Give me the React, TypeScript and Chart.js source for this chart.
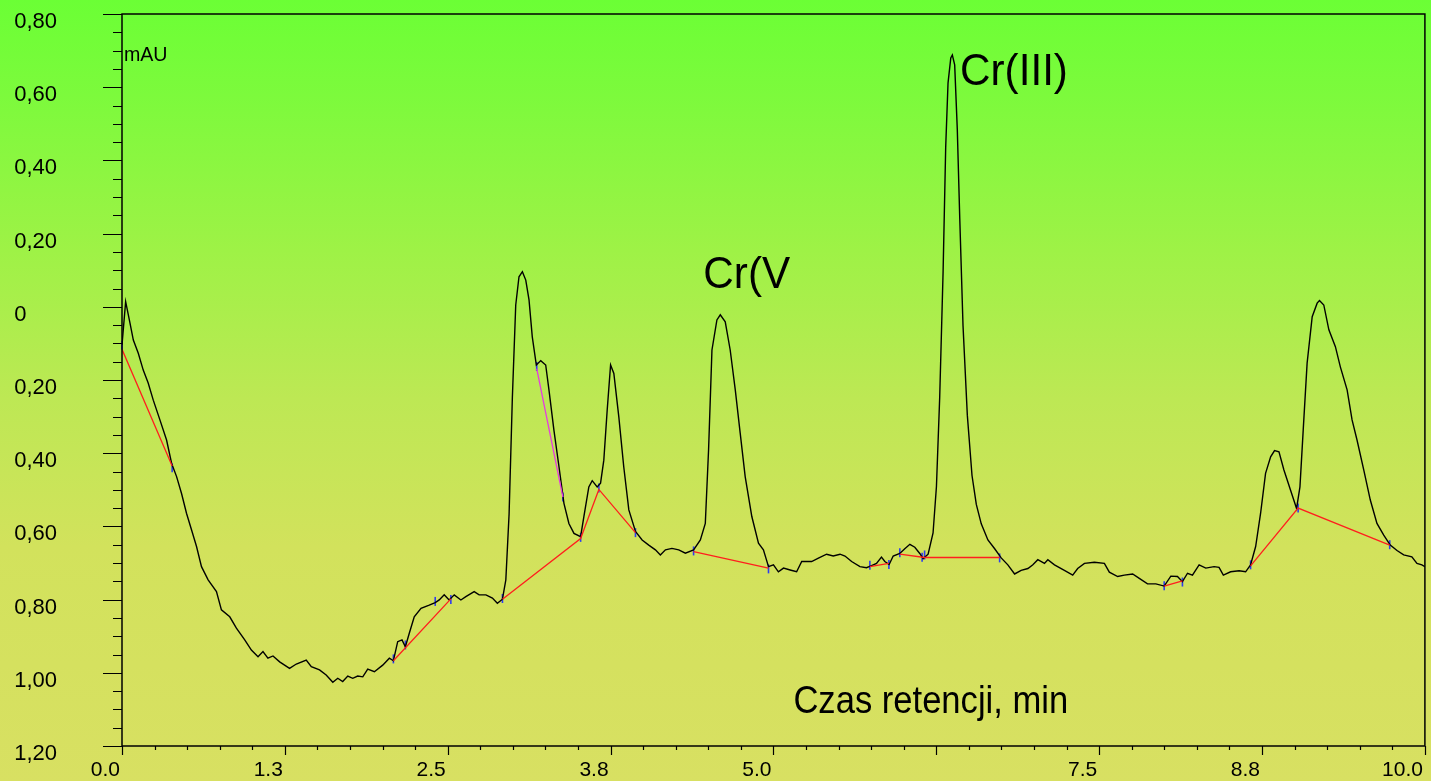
import React, { useEffect, useRef } from "react";
import { Chart, registerables } from "chart.js";

Chart.register(...registerables);

// Chromatogram samples: [retention time (min), signal (mAU)]
const chromatogram: [number, number][] = [
  [0.000, -0.104], [0.028, 0.014], [0.061, -0.044], [0.087, -0.091], [0.125, -0.127], [0.163, -0.173],
  [0.201, -0.208], [0.240, -0.255], [0.291, -0.309], [0.342, -0.364], [0.381, -0.428], [0.419, -0.464],
  [0.457, -0.510], [0.495, -0.564], [0.534, -0.610], [0.572, -0.655], [0.610, -0.710], [0.661, -0.746],
  [0.725, -0.778], [0.763, -0.828], [0.827, -0.847], [0.878, -0.878], [0.942, -0.910], [0.993, -0.938],
  [1.044, -0.956], [1.082, -0.942], [1.120, -0.960], [1.159, -0.954], [1.210, -0.970], [1.286, -0.988],
  [1.338, -0.976], [1.414, -0.965], [1.453, -0.983], [1.516, -0.992], [1.567, -1.006], [1.618, -1.026],
  [1.656, -1.015], [1.694, -1.024], [1.733, -1.009], [1.771, -1.015], [1.809, -1.009], [1.848, -1.011],
  [1.886, -0.990], [1.937, -0.997], [2.001, -0.979], [2.052, -0.960], [2.083, -0.967], [2.116, -0.915],
  [2.149, -0.910], [2.175, -0.929], [2.205, -0.892], [2.243, -0.847], [2.295, -0.824], [2.358, -0.815],
  [2.404, -0.808], [2.435, -0.801], [2.473, -0.787], [2.511, -0.801], [2.550, -0.787], [2.601, -0.801],
  [2.639, -0.792], [2.703, -0.778], [2.741, -0.787], [2.793, -0.787], [2.843, -0.796], [2.881, -0.810],
  [2.920, -0.799], [2.946, -0.746], [2.971, -0.566], [2.996, -0.249], [3.022, 0.005], [3.047, 0.082],
  [3.073, 0.096], [3.099, 0.073], [3.124, 0.019], [3.149, -0.082], [3.180, -0.159], [3.214, -0.147],
  [3.252, -0.159], [3.277, -0.227], [3.315, -0.337], [3.354, -0.437], [3.392, -0.537], [3.430, -0.592],
  [3.469, -0.619], [3.520, -0.628], [3.545, -0.573], [3.583, -0.492], [3.609, -0.475], [3.647, -0.492],
  [3.673, -0.482], [3.698, -0.419], [3.724, -0.282], [3.750, -0.159], [3.775, -0.182], [3.813, -0.300],
  [3.851, -0.437], [3.890, -0.555], [3.941, -0.614], [3.992, -0.637], [4.043, -0.651], [4.094, -0.664],
  [4.132, -0.678], [4.171, -0.664], [4.221, -0.660], [4.273, -0.664], [4.324, -0.673], [4.387, -0.664],
  [4.439, -0.637], [4.477, -0.592], [4.502, -0.391], [4.528, -0.118], [4.566, -0.036], [4.592, -0.022],
  [4.630, -0.041], [4.668, -0.118], [4.707, -0.227], [4.745, -0.346], [4.783, -0.464], [4.834, -0.573],
  [4.885, -0.646], [4.923, -0.664], [4.962, -0.710], [5.000, -0.705], [5.038, -0.724], [5.077, -0.714],
  [5.128, -0.719], [5.178, -0.724], [5.217, -0.696], [5.293, -0.696], [5.345, -0.687], [5.408, -0.676],
  [5.459, -0.681], [5.511, -0.676], [5.549, -0.681], [5.600, -0.696], [5.664, -0.710], [5.714, -0.713],
  [5.753, -0.707], [5.791, -0.701], [5.829, -0.684], [5.855, -0.696], [5.888, -0.704], [5.919, -0.681],
  [5.970, -0.674], [6.008, -0.661], [6.047, -0.649], [6.085, -0.657], [6.123, -0.674], [6.149, -0.688],
  [6.187, -0.676], [6.225, -0.618], [6.251, -0.491], [6.276, -0.247], [6.302, 0.095], [6.322, 0.436],
  [6.340, 0.612], [6.361, 0.680], [6.373, 0.688], [6.391, 0.661], [6.411, 0.485], [6.430, 0.241],
  [6.455, -0.052], [6.488, -0.296], [6.524, -0.461], [6.557, -0.540], [6.595, -0.593], [6.646, -0.637],
  [6.698, -0.661], [6.748, -0.686], [6.799, -0.705], [6.851, -0.730], [6.901, -0.720], [6.953, -0.715],
  [6.991, -0.705], [7.029, -0.691], [7.080, -0.701], [7.106, -0.691], [7.157, -0.705], [7.233, -0.720],
  [7.297, -0.733], [7.335, -0.715], [7.387, -0.701], [7.463, -0.698], [7.540, -0.701], [7.578, -0.725],
  [7.642, -0.737], [7.693, -0.733], [7.757, -0.730], [7.808, -0.742], [7.871, -0.757], [7.935, -0.757],
  [7.999, -0.763], [8.050, -0.736], [8.101, -0.737], [8.139, -0.751], [8.178, -0.728], [8.216, -0.733],
  [8.267, -0.705], [8.318, -0.714], [8.382, -0.710], [8.420, -0.712], [8.453, -0.733], [8.509, -0.724],
  [8.574, -0.721], [8.624, -0.724], [8.662, -0.705], [8.701, -0.655], [8.739, -0.564], [8.777, -0.455],
  [8.816, -0.410], [8.846, -0.393], [8.880, -0.396], [8.918, -0.446], [8.969, -0.501], [9.015, -0.551],
  [9.041, -0.492], [9.066, -0.337], [9.096, -0.154], [9.135, -0.027], [9.173, 0.010], [9.191, 0.017],
  [9.224, 0.005], [9.263, -0.063], [9.313, -0.109], [9.351, -0.164], [9.403, -0.227], [9.441, -0.309],
  [9.479, -0.364], [9.531, -0.446], [9.581, -0.528], [9.632, -0.592], [9.684, -0.624], [9.734, -0.651],
  [9.786, -0.666], [9.837, -0.678], [9.900, -0.683], [9.939, -0.701], [9.977, -0.705], [10.000, -0.710],
];

// Integration baselines (red), one polyline per segment
const baselineSegments: [number, number][][] = [
  [[0.000, -0.116], [0.385, -0.435]],
  [[2.083, -0.967], [2.524, -0.798]],
  [[2.920, -0.799], [3.520, -0.633], [3.660, -0.499], [3.941, -0.617]],
  [[4.387, -0.669], [4.962, -0.714]],
  [[5.740, -0.710], [5.886, -0.701]],
  [[5.970, -0.676], [6.160, -0.685], [6.736, -0.685]],
  [[7.999, -0.763], [8.139, -0.749]],
  [[8.662, -0.708], [9.027, -0.550], [9.730, -0.651]],
];

// Shoulder drop line (magenta)
const shoulderLine: [number, number][] = [[3.183, -0.169], [3.384, -0.520]];

// Peak start / end markers (blue)
const peakMarkers: [number, number][] = [
  [0.000, -0.105], [0.385, -0.440], [2.083, -0.962], [2.175, -0.924], [2.404, -0.805], [2.524, -0.800],
  [2.920, -0.797], [3.183, -0.163], [3.384, -0.520], [3.520, -0.630], [3.660, -0.495], [3.941, -0.617],
  [4.387, -0.667], [4.962, -0.716], [5.740, -0.706], [5.886, -0.704], [5.970, -0.672], [6.141, -0.684],
  [6.160, -0.678], [6.736, -0.686], [7.999, -0.762], [8.139, -0.752], [8.662, -0.705], [9.027, -0.550],
  [9.730, -0.650],
];

// Axis ticks
const xTickLabels = ["0.0", "1.3", "2.5", "3.8", "5.0", "", "7.5", "8.8", "10.0"];
const xLabelStep = 1.25;
const xMinorStep = 0.25;
const yTickValues = [0.8, 0.6, 0.4, 0.2, 0, -0.2, -0.4, -0.6, -0.8, -1.0, -1.2];
const yTickLabels = ["0,80", "0,60", "0,40", "0,20", "0     ", "-0,20", "-0,40", "-0,60", "-0,80", "-1,00", "-1,20"];
const yLabelStep = 0.2;
const yMinorStep = 0.05;

// Text annotations placed in data coordinates
const annotationTexts = ["mAU", "Cr(V", "Cr(III)", "Czas retencji, min"];
const annotationTime = [0.015, 4.462, 6.432, 5.153];
const annotationSignal = [0.672, 0.051, 0.606, -1.110];
const annotationFontPx = [20, 44, 44, 38];
const annotationStretch = [0.98, 0.96, 0.96, 0.91];

const FONT = "'Liberation Sans', Arial, Helvetica, sans-serif";

const isMultiple = (v: number, step: number) => Math.abs(v / step - Math.round(v / step)) < 1e-6;

const framePlugin = {
  id: "frameAndTicks",
  beforeDraw(chart: any) {
    const ctx = chart.ctx;
    ctx.save();
    ctx.beginPath();
    ctx.rect(15, 0, chart.width, chart.height);
    ctx.clip();
  },
  afterDraw(chart: any) {
    const ctx = chart.ctx;
    ctx.restore();
    const { left, right, top, bottom } = chart.chartArea;
    const xs = chart.scales.x;
    const ys = chart.scales.y;
    ctx.save();
    ctx.strokeStyle = "#000";
    ctx.lineWidth = 1.5;
    ctx.strokeRect(left, top, right - left, bottom - top);
    ctx.lineWidth = 1.2;
    ctx.beginPath();
    ys.ticks.forEach((t: any) => {
      const p = Math.round(ys.getPixelForValue(t.value)) + 0.5;
      const len = isMultiple(t.value, yLabelStep) ? 19 : 9;
      ctx.moveTo(left - len, p);
      ctx.lineTo(left, p);
    });
    xs.ticks.forEach((t: any) => {
      const p = Math.round(xs.getPixelForValue(t.value)) + 0.5;
      const len = isMultiple(t.value, xLabelStep) ? 9 : 4;
      ctx.moveTo(p, bottom);
      ctx.lineTo(p, bottom + len);
    });
    ctx.stroke();

    ctx.fillStyle = "#000";
    ctx.textAlign = "left";
    ctx.textBaseline = "alphabetic";
    annotationTexts.forEach((txt, i) => {
      const px = xs.getPixelForValue(annotationTime[i]);
      const py = ys.getPixelForValue(annotationSignal[i]);
      ctx.save();
      ctx.translate(px, py);
      ctx.scale(annotationStretch[i], 1);
      ctx.font = `${annotationFontPx[i]}px ${FONT}`;
      ctx.fillText(txt, 0, 0);
      ctx.restore();
    });
    ctx.restore();
  },
};

export default function App() {
  const canvasRef = useRef<HTMLCanvasElement | null>(null);

  useEffect(() => {
    const canvas = canvasRef.current;
    if (!canvas) return;

    const baselineData: any[] = [];
    baselineSegments.forEach((seg, si) => {
      if (si > 0) baselineData.push({ x: seg[0][0], y: null });
      seg.forEach(([x, y]) => baselineData.push({ x, y }));
    });

    const chart = new Chart(canvas, {
      type: "line",
      data: {
        datasets: [
          {
            label: "baseline",
            data: baselineData,
            borderColor: "#ff1e1e",
            borderWidth: 1.3,
            pointRadius: 0,
            spanGaps: false,
            tension: 0,
          },
          {
            label: "shoulder",
            data: shoulderLine.map(([x, y]) => ({ x, y })),
            borderColor: "#e43ce0",
            borderWidth: 1.3,
            pointRadius: 0,
            tension: 0,
          },
          {
            label: "signal",
            data: chromatogram.map(([x, y]) => ({ x, y })),
            borderColor: "#000000",
            borderWidth: 1.4,
            pointRadius: 0,
            tension: 0,
          },
          {
            label: "markers",
            data: peakMarkers.map(([x, y]) => ({ x, y })),
            showLine: false,
            pointStyle: "line",
            rotation: 90,
            pointRadius: 4.5,
            pointBorderColor: "#2d3cf0",
            pointBorderWidth: 1.6,
            pointBackgroundColor: "#2d3cf0",
            clip: false,
          } as any,
        ],
      },
      options: {
        animation: false,
        responsive: false,
        devicePixelRatio: 1,
        events: [],
        layout: { padding: { left: 0, top: 14, right: 3, bottom: 0 } },
        plugins: { legend: { display: false }, tooltip: { enabled: false } },
        scales: {
          x: {
            type: "linear",
            position: "bottom",
            min: 0,
            max: 10,
            afterFit: (s: any) => {
              s.height = 35;
            },
            grid: { display: false, drawTicks: true, tickLength: 9 },
            border: { display: false },
            ticks: {
              stepSize: xMinorStep,
              autoSkip: false,
              maxRotation: 0,
              minRotation: 0,
              align: "end",
              labelOffset: -2,
              padding: 3,
              color: "#000",
              font: { family: FONT, size: 21 },
              callback: (value: any) => {
                const v = Number(value);
                if (!isMultiple(v, xLabelStep)) return "";
                return xTickLabels[Math.round(v / xLabelStep)] ?? "";
              },
            },
          },
          y: {
            type: "linear",
            position: "left",
            min: -1.2,
            max: 0.8,
            afterFit: (s: any) => {
              s.width = 122;
              s.paddingTop = 0;
              s.paddingBottom = 0;
            },
            grid: { display: false, drawTicks: true, tickLength: 65 },
            border: { display: false },
            ticks: {
              stepSize: yMinorStep,
              autoSkip: false,
              labelOffset: 8,
              padding: 0,
              color: "#000",
              font: { family: FONT, size: 22 },
              callback: (value: any) => {
                const v = Number(value);
                const i = yTickValues.findIndex((tv) => Math.abs(tv - v) < 1e-6);
                return i >= 0 ? yTickLabels[i] : "";
              },
            },
          },
        },
      },
      plugins: [framePlugin],
    } as any);

    return () => chart.destroy();
  }, []);

  return (
    <div
      style={{
        position: "fixed",
        left: 0,
        top: 0,
        width: 1431,
        height: 781,
        background:
          "linear-gradient(180deg, #6bff35 0%, #7cfa3c 12%, #9ef246 32%, #bde854 51%, #d2e25c 70%, #d8e062 100%)",
      }}
    >
      <canvas ref={canvasRef} width={1431} height={781} style={{ display: "block", width: 1431, height: 781 }} />
    </div>
  );
}
